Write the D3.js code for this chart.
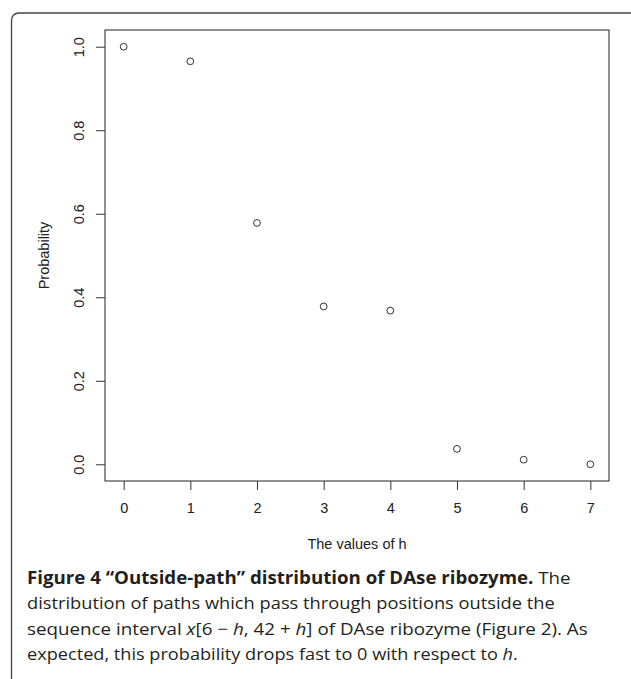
<!DOCTYPE html>
<html>
<head>
<meta charset="utf-8">
<script src="https://cdn.jsdelivr.net/npm/d3@7"></script>
<style>
  html, body { margin: 0; padding: 0; background: #fff; }
  svg { display: block; }
</style>
</head>
<body>
<svg id="chart" width="631" height="679"></svg>
<script>
// ---- data ----
const hValues = [0, 1, 2, 3, 4, 5, 6, 7];
const probability = [1.0, 0.965, 0.578, 0.378, 0.368, 0.037, 0.011, 0.0];
const xTicks = [0, 1, 2, 3, 4, 5, 6, 7];
const yTicks = [0.0, 0.2, 0.4, 0.6, 0.8, 1.0];
const xLabel = "The values of h";
const yLabel = "Probability";
const captionBold = "Figure 4 \u201cOutside-path\u201d distribution of DAse ribozyme.";

const svg = d3.select("#chart");

// frame (rounded top-left corner)
svg.append("path")
  .attr("d", "M11.5,679 V21 Q11.5,13 19.5,13 H640")
  .attr("fill", "none").attr("stroke", "#444").attr("stroke-width", 1.3);

const box = { left: 105, right: 609, top: 30, bottom: 481 };
const x = d3.scaleLinear().domain([-0.28, 7.28]).range([box.left, box.right]);
const y = d3.scaleLinear().domain([-0.04, 1.04]).range([box.bottom, box.top]);

const axisFont = "'Liberation Sans', Arial, Helvetica, sans-serif";
const axisSize = 14.5;

// plot box
svg.append("rect")
  .attr("x", box.left).attr("y", box.top)
  .attr("width", box.right - box.left).attr("height", box.bottom - box.top)
  .attr("fill", "none").attr("stroke", "#222").attr("stroke-width", 1);

// x axis
const gx = svg.append("g")
  .attr("transform", `translate(0,${box.bottom})`)
  .call(d3.axisBottom(x).tickValues(xTicks).tickFormat(d3.format("d"))
        .tickSize(9).tickSizeOuter(0).tickPadding(13));
gx.select(".domain").remove();
gx.selectAll("line").attr("stroke", "#333");
gx.selectAll("text").attr("font-family", axisFont).attr("font-size", axisSize).attr("fill", "#222");

// y axis
const gy = svg.append("g")
  .attr("transform", `translate(${box.left},0)`)
  .call(d3.axisLeft(y).tickValues(yTicks).tickFormat(d3.format(".1f"))
        .tickSize(9).tickSizeOuter(0));
gy.select(".domain").remove();
gy.selectAll("line").attr("stroke", "#333");
gy.selectAll("text")
  .attr("x", 0).attr("y", 0).attr("dy", 0)
  .attr("text-anchor", "middle")
  .attr("transform", "translate(-21,0) rotate(-90)")
  .attr("font-family", axisFont).attr("font-size", axisSize).attr("fill", "#222");

// axis titles
svg.append("text")
  .attr("x", (box.left + box.right) / 2).attr("y", 549)
  .attr("text-anchor", "middle")
  .attr("font-family", axisFont).attr("font-size", axisSize).attr("fill", "#222")
  .text(xLabel);
svg.append("text")
  .attr("transform", `translate(49,${(box.top + box.bottom) / 2}) rotate(-90)`)
  .attr("text-anchor", "middle")
  .attr("font-family", axisFont).attr("font-size", axisSize).attr("fill", "#222")
  .text(yLabel);

// points
svg.append("g").selectAll("circle")
  .data(hValues.map((h, i) => ({ h, p: probability[i] })))
  .join("circle")
  .attr("cx", d => x(d.h)).attr("cy", d => y(d.p))
  .attr("r", 3.4)
  .attr("fill", "none").attr("stroke", "#333").attr("stroke-width", 1);

// caption
const capFont = "'Open Sans', 'Noto Sans', sans-serif";
const capLines = [
  { y: 584, w: 544, parts: [
      { t: captionBold + " ", b: true },
      { t: "The" } ] },
  { y: 609, w: 528, parts: [
      { t: "distribution of paths which pass through positions outside the" } ] },
  { y: 635, w: 561, parts: [
      { t: "sequence interval " }, { t: "x", i: true }, { t: "[6 \u2212 " }, { t: "h", i: true },
      { t: ", 42 + " }, { t: "h", i: true }, { t: "] of DAse ribozyme (Figure 2). As" } ] },
  { y: 660, w: 491, parts: [
      { t: "expected, this probability drops fast to 0 with respect to " }, { t: "h", i: true }, { t: "." } ] }
];
const capX = 27;
capLines.forEach(line => {
  const g = svg.append("g");
  const t = g.append("text")
    .attr("x", 0).attr("y", 0)
    .attr("font-family", capFont).attr("font-size", 17).attr("fill", "#231f20");
  line.parts.forEach(p => {
    t.append("tspan")
      .attr("font-weight", p.b ? 700 : 400)
      .attr("font-style", p.i ? "italic" : "normal")
      .text(p.t);
  });
  const bb = t.node().getBBox();
  const sx = line.w / bb.width;
  g.attr("transform", `translate(${capX},${line.y}) scale(${sx},1)`);
});
</script>
</body>
</html>
